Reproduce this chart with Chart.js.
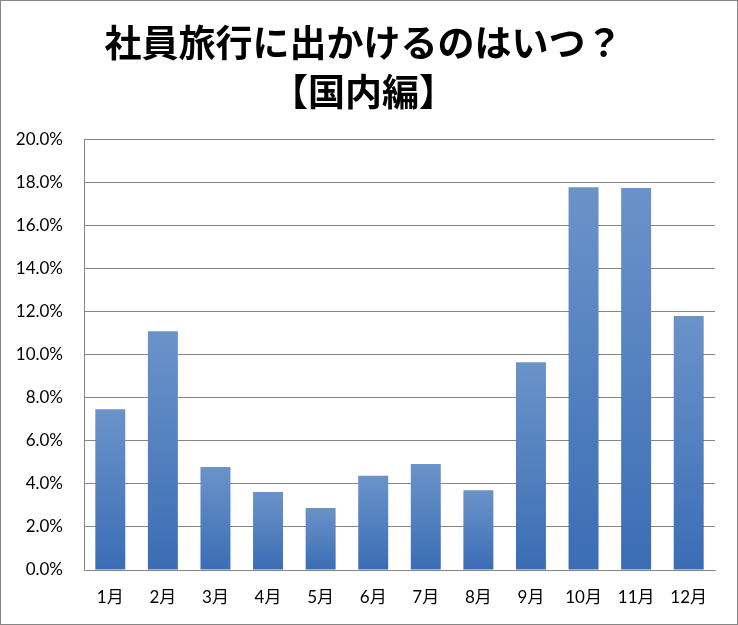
<!DOCTYPE html>
<html><head><meta charset="utf-8">
<script src="https://cdn.jsdelivr.net/npm/chart.js@4.4.0/dist/chart.umd.min.js"></script>
<style>html,body{margin:0;padding:0;background:#fff;}#wrap{width:738px;height:625px;position:relative;}</style>
</head><body><div id="wrap"><canvas id="c" width="738" height="625"></canvas></div>
<script>
const titleLines = ['社員旅行に出かけるのはいつ？', '【国内編】'];
const months = ['1月','2月','3月','4月','5月','6月','7月','8月','9月','10月','11月','12月'];
const shares = [7.47, 11.09, 4.78, 3.62, 2.88, 4.38, 4.92, 3.71, 9.65, 17.78, 17.74, 11.80];
const yTicks = [0, 2, 4, 6, 8, 10, 12, 14, 16, 18, 20];

const FONT = "Lato, 'Noto Sans CJK JP', sans-serif";

const framePlugin = {
  id: 'frame',
  afterLayout(chart) {
    // centre the title block on the reference's title centre
    if (chart.titleBlock) {
      chart.titleBlock.left += 6;
      chart.titleBlock.right += 6;
    }
  },
  afterDraw(chart) {
    const c = chart.ctx;
    c.save();
    c.strokeStyle = '#868686';
    c.lineWidth = 1;
    c.strokeRect(0.5, 0.5, chart.width - 1, chart.height - 1);
    c.restore();
  }
};

function barFill(ctx) {
  const chart = ctx.chart;
  const area = chart.chartArea;
  if (!area || ctx.type !== 'data') return '#4a7abd';
  const ys = chart.scales.y;
  const top = ys.getPixelForValue(ctx.raw);
  const base = ys.getPixelForValue(0);
  const g = chart.ctx.createLinearGradient(0, top, 0, base);
  g.addColorStop(0, '#6b93c9');
  g.addColorStop(1, '#3b6db5');
  return g;
}

new Chart(document.getElementById('c'), {
  type: 'bar',
  data: {
    labels: months,
    datasets: [{
      data: shares,
      backgroundColor: barFill,
      borderWidth: 0,
      categoryPercentage: 1,
      barPercentage: 0.57
    }]
  },
  options: {
    responsive: false,
    animation: false,
    devicePixelRatio: 1,
    layout: { padding: { left: 0, right: 23, top: 0, bottom: 0 } },
    plugins: {
      legend: { display: false },
      tooltip: { enabled: false },
      title: {
        display: true,
        text: titleLines,
        color: '#000',
        font: { family: "'Noto Sans CJK JP', sans-serif", size: 37, weight: 'bold', lineHeight: 1.33 },
        padding: { top: 18, bottom: 23 }
      }
    },
    scales: {
      x: {
        grid: { display: false, drawTicks: false },
        border: { display: true, color: '#868686', width: 1 },
        ticks: { color: '#000', font: { family: FONT, size: 17 }, padding: 17 },
        afterFit(s) { s.height = 55; }
      },
      y: {
        min: 0, max: 20,
        afterBuildTicks(s) { s.ticks = yTicks.map(v => ({ value: v })); },
        grid: { color: '#868686', lineWidth: 1, drawTicks: false },
        border: { display: true, color: '#868686', width: 1 },
        ticks: {
          color: '#000',
          font: { family: FONT, size: 17 },
          padding: 21,
          callback: v => Number(v).toFixed(1) + '%'
        },
        afterFit(s) { s.width = 84; }
      }
    }
  },
  plugins: [framePlugin]
});
</script>
</body></html>
